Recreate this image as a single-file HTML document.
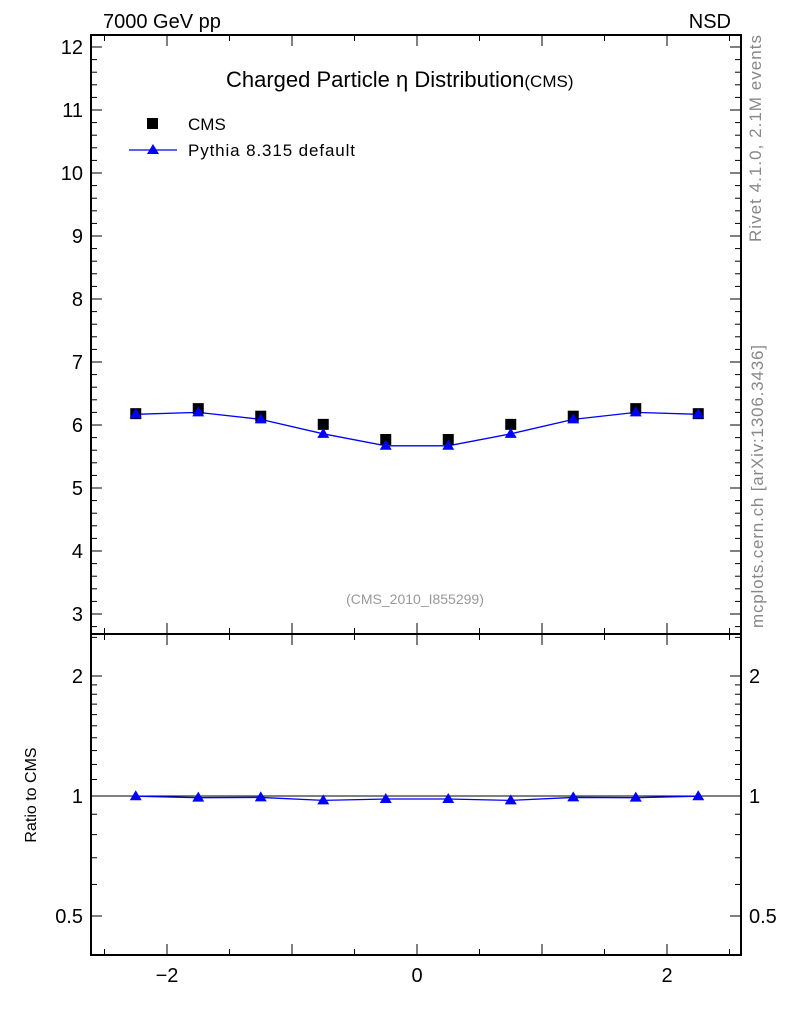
<!DOCTYPE html>
<html><head><meta charset="utf-8">
<style>
body{margin:0;background:#fff;}
svg text{font-family:"Liberation Sans",sans-serif;}
</style></head>
<body>
<svg id="c" width="786" height="1024" xmlns="http://www.w3.org/2000/svg">
<text x="103" y="28" font-size="20">7000 GeV pp</text>
<text x="731" y="28" font-size="20" text-anchor="end">NSD</text>
<text x="226" y="87" font-size="22">Charged Particle η Distribution<tspan font-size="17">(CMS)</tspan></text>
<text x="415" y="604" font-size="14" fill="#999" text-anchor="middle">(CMS_2010_I855299)</text>
<text transform="translate(761,242) rotate(-90)" font-size="17" fill="#888" textLength="207">Rivet 4.1.0,  2.1M events</text>
<text transform="translate(763,628) rotate(-90)" font-size="17" fill="#888" textLength="283">mcplots.cern.ch [arXiv:1306.3436]</text>
<text transform="translate(36,795) rotate(-90)" font-size="16" text-anchor="middle">Ratio to CMS</text>
<g>
<rect x="147" y="118" width="11" height="11" fill="#000"/>
<text x="188" y="130" font-size="17">CMS</text>
<line x1="129" y1="150" x2="177" y2="150" stroke="#00f" stroke-width="1.3"/>
<polygon points="153,144 147,154 159,154" fill="#00f"/>
<text x="188" y="156" font-size="17" textLength="167">Pythia 8.315 default</text>
</g>
<g id="g"></g>
</svg>
<script>
const xCenters=[-2.25,-1.75,-1.25,-0.75,-0.25,0.25,0.75,1.25,1.75,2.25];
const cmsValues=[6.18,6.26,6.14,6.01,5.77,5.77,6.01,6.14,6.26,6.18];
const pythiaValues=[6.17,6.20,6.09,5.86,5.67,5.67,5.86,6.09,6.20,6.17];
const yTicks=[3,4,5,6,7,8,9,10,11,12];
const xTicks=[-2,0,2];
const ratioTicks=[0.5,1,2];
const L=91,R=741,T=35,M=634,B=955;
const X=v=>417+v*125;
const Y=v=>47+(12-v)*63;
const RY=v=>796-Math.log2(v)*120;
const NS="http://www.w3.org/2000/svg";
const g=document.getElementById('g');
function el(t,a){const e=document.createElementNS(NS,t);for(const k in a)e.setAttribute(k,a[k]);g.appendChild(e);return e;}
let e;
e=el('rect',{x:L,y:T,width:R-L,height:B-T,fill:'none',stroke:'#000','stroke-width':2});


e=el('line',{x1:L,y1:M,x2:R,y2:M,stroke:'#000','stroke-width':2});


for(let v=2.8;v<=12.2;v+=0.2){const vv=Math.round(v*10)/10;const y=Y(vv);if(y<T||y>M)continue;const maj=Math.abs(vv-Math.round(vv))<1e-6;const len=maj?11:6;
el('line',{x1:L,y1:y,x2:L+len,y2:y,stroke:'#000'});el('line',{x1:R,y1:y,x2:R-len,y2:y,stroke:'#000'});}
yTicks.forEach(v=>{e=el('text',{x:L-8,y:Y(v)+7,'font-size':20,'text-anchor':'end'});e.textContent=v;

});
for(const v of [0.4,0.5,0.6,0.7,0.8,0.9,1,1.1,1.2,1.3,1.4,1.5,1.6,1.7,1.8,1.9,2,2.5]){const y=RY(v);if(y<M||y>B)continue;const maj=ratioTicks.includes(v);const len=maj?11:6;
el('line',{x1:L,y1:y,x2:L+len,y2:y,stroke:'#000'});el('line',{x1:R,y1:y,x2:R-len,y2:y,stroke:'#000'});}
ratioTicks.forEach(v=>{e=el('text',{x:L-8,y:RY(v)+7,'font-size':20,'text-anchor':'end'});e.textContent=v;


e=el('text',{x:R+8,y:RY(v)+7,'font-size':20});e.textContent=v;

});
for(let v=-2.5;v<=2.5;v+=0.5){const x=X(v);const maj=Math.abs(v-Math.round(v))<1e-6;const len=maj?11:6;
for(const [top,bot] of [[T,M],[M,B]]){el('line',{x1:x,y1:top,x2:x,y2:top+len,stroke:'#000'});el('line',{x1:x,y1:bot,x2:x,y2:bot-len,stroke:'#000'});}}
xTicks.forEach(v=>{e=el('text',{x:X(v),y:982,'font-size':20,'text-anchor':'middle'});e.textContent=v===0?'0':(v<0?'−'+(-v):v);

});
el('line',{x1:L,y1:RY(1),x2:R,y2:RY(1),stroke:'#000'});
e=el('polyline',{points:xCenters.map((x,i)=>X(x)+','+Y(pythiaValues[i])).join(' '),fill:'none',stroke:'#00f','stroke-width':1.3});


const ratios=pythiaValues.map((p,i)=>p/cmsValues[i]);
e=el('polyline',{points:xCenters.map((x,i)=>X(x)+','+RY(ratios[i])).join(' '),fill:'none',stroke:'#00f','stroke-width':1.3});


xCenters.forEach((x,i)=>{
e=el('rect',{x:X(x)-5.5,y:Y(cmsValues[i])-5.5,width:11,height:11,fill:'#000'});


const px=X(x),py=Y(pythiaValues[i]);
e=el('polygon',{points:`${px},${py-6} ${px-6},${py+4} ${px+6},${py+4}`,fill:'#00f'});


const ry=RY(ratios[i]);
e=el('polygon',{points:`${px},${ry-6} ${px-6},${ry+4} ${px+6},${ry+4}`,fill:'#00f'});


});
</script>
</body></html>
